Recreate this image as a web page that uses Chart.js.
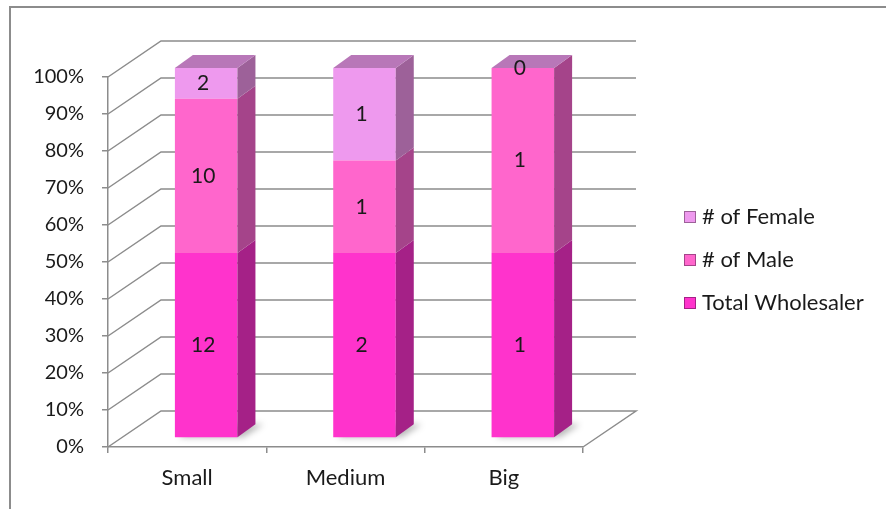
<!DOCTYPE html>
<html lang="en">
<head>
<meta charset="UTF-8">
<title>Wholesalers by size</title>
<script src="https://cdn.jsdelivr.net/npm/chart.js@4.4.1/dist/chart.umd.min.js"></script>
<style>
  html, body { margin: 0; padding: 0; background: #fff; }
  #wrap { width: 886px; height: 509px; }
</style>
</head>
<body>
<div id="wrap"><canvas id="myChart" width="886" height="509"></canvas></div>
<script>
const categories = ['Small', 'Medium', 'Big'];
const totalWholesaler = [12, 2, 1];
const maleCount = [10, 1, 1];
const femaleCount = [2, 1, 0];

const FONT = 'Lato, "Liberation Sans", sans-serif';
const GRID = '#8c8c8c';
// wall depth offset and bar shift into the box
const WALL = { dx: 53, dy: -36 };
const BAR_SHIFT = { dx: 19, dy: -9 };
const BAR_DEPTH = { dx: 18, dy: -13 };

function share(arr) {
  return arr.map((v, i) => {
    const sum = totalWholesaler[i] + maleCount[i] + femaleCount[i];
    return v / sum * 100;
  });
}

const series = [
  { label: 'Total Wholesaler', counts: totalWholesaler, front: '#ff33cc', side: '#a52187' },
  { label: '# of Male', counts: maleCount, front: '#ff66cc', side: '#a5448a' },
  { label: '# of Female', counts: femaleCount, front: '#ee99ee', side: '#9d6199', top: '#b877b8' }
];

const box3d = {
  id: 'box3d',
  beforeDraw(chart) {
    const ctx = chart.ctx;
    ctx.save();
    ctx.strokeStyle = '#8c8c8c';
    ctx.lineWidth = 2;
    ctx.beginPath();
    ctx.moveTo(10, 509);
    ctx.lineTo(10, 7);
    ctx.lineTo(886, 7);
    ctx.stroke();
    ctx.restore();
  },
  beforeDatasetsDraw(chart) {
    const ctx = chart.ctx;
    const area = chart.chartArea;
    const y = chart.scales.y;
    ctx.save();
    ctx.strokeStyle = GRID;
    ctx.lineWidth = 1.5;
    y.ticks.forEach(t => {
      const py = y.getPixelForValue(t.value);
      ctx.beginPath();
      ctx.moveTo(area.left, py);
      ctx.lineTo(area.left + WALL.dx, py + WALL.dy);
      ctx.lineTo(area.right + WALL.dx, py + WALL.dy);
      if (t.value === 0) ctx.lineTo(area.right, py);
      ctx.stroke();
    });
    ctx.restore();

    // bars sit a little inside the box
    ctx.save();
    ctx.translate(BAR_SHIFT.dx, BAR_SHIFT.dy);
    // soft floor shadow behind each column
    const base = chart.getDatasetMeta(0).data;
    ctx.save();
    ctx.filter = 'blur(3px)';
    ctx.fillStyle = 'rgba(0,0,0,0.28)';
    base.forEach(el => {
      const r = el.x + el.width / 2;
      const l = el.x - el.width / 2;
      ctx.beginPath();
      ctx.moveTo(l + 4, el.base);
      ctx.lineTo(r + 6, el.base);
      ctx.lineTo(r + BAR_DEPTH.dx + 8, el.base + BAR_DEPTH.dy);
      ctx.lineTo(l + BAR_DEPTH.dx, el.base + BAR_DEPTH.dy);
      ctx.closePath();
      ctx.fill();
    });
    ctx.restore();
  },
  afterDatasetsDraw(chart) {
    const ctx = chart.ctx;
    const last = chart.data.datasets.length - 1;
    chart.data.datasets.forEach((ds, di) => {
      const meta = chart.getDatasetMeta(di);
      meta.data.forEach((el, i) => {
        const l = el.x - el.width / 2;
        const r = el.x + el.width / 2;
        const top = Math.min(el.y, el.base);
        const bot = Math.max(el.y, el.base);
        // right face
        ctx.fillStyle = series[di].side;
        ctx.beginPath();
        ctx.moveTo(r, top);
        ctx.lineTo(r + BAR_DEPTH.dx, top + BAR_DEPTH.dy);
        ctx.lineTo(r + BAR_DEPTH.dx, bot + BAR_DEPTH.dy);
        ctx.lineTo(r, bot);
        ctx.closePath();
        ctx.fill();
        // lid on the top segment
        if (di === last) {
          ctx.fillStyle = series[di].top;
          ctx.beginPath();
          ctx.moveTo(l, top);
          ctx.lineTo(l + BAR_DEPTH.dx, top + BAR_DEPTH.dy);
          ctx.lineTo(r + BAR_DEPTH.dx, top + BAR_DEPTH.dy);
          ctx.lineTo(r, top);
          ctx.closePath();
          ctx.fill();
        }
      });
    });
    // count labels in the middle of each segment
    ctx.fillStyle = '#1a1a1a';
    ctx.font = '21px ' + FONT;
    ctx.textAlign = 'center';
    ctx.textBaseline = 'middle';
    chart.data.datasets.forEach((ds, di) => {
      const meta = chart.getDatasetMeta(di);
      meta.data.forEach((el, i) => {
        const my = (el.y + el.base) / 2;
        ctx.fillText(String(ds.counts[i]), el.x - 3, my);
      });
    });
    ctx.restore();
  },
  afterDraw(chart) {
    const ctx = chart.ctx;
    ctx.save();
    ctx.font = '22px ' + FONT;
    ctx.textBaseline = 'middle';
    ctx.textAlign = 'left';
    const items = chart.data.datasets.slice().reverse();
    items.forEach((ds, k) => {
      const cy = 216 + k * 43;
      ctx.fillStyle = ds.backgroundColor;
      ctx.fillRect(684, cy - 5, 12, 12);
      ctx.strokeStyle = ds.sideColor;
      ctx.lineWidth = 1;
      ctx.strokeRect(684.5, cy - 4.5, 11, 11);
      ctx.fillStyle = '#1a1a1a';
      ctx.fillText(ds.label, 702, cy + 1);
    });
    ctx.restore();
  }
};

const ctx = document.getElementById('myChart').getContext('2d');
new Chart(ctx, {
  type: 'bar',
  data: {
    labels: categories,
    datasets: series.map(s => ({
      label: s.label,
      data: share(s.counts),
      counts: s.counts,
      backgroundColor: s.front,
      sideColor: s.side,
      borderWidth: 0,
      clip: false,
      categoryPercentage: 1,
      barPercentage: 0.395
    }))
  },
  options: {
    responsive: false,
    animation: false,
    layout: { padding: { left: 0, top: 77, right: 303, bottom: 0 } },
    plugins: {
      legend: { display: false },
      tooltip: { enabled: false }
    },
    scales: {
      x: {
        stacked: true,
        afterFit(s) { s.height = 62; },
        grid: { drawOnChartArea: false, drawTicks: true, tickLength: 6, color: GRID, lineWidth: 1.5 },
        border: { display: true, color: GRID, width: 1.5 },
        ticks: { font: { family: FONT, size: 22 }, color: '#1a1a1a', padding: 12 }
      },
      y: {
        stacked: true,
        min: 0,
        max: 100,
        afterFit(s) { s.width = 108; },
        grid: { drawOnChartArea: false, drawTicks: true, tickLength: 6, color: GRID, lineWidth: 1.5 },
        border: { display: true, color: GRID, width: 1.5 },
        ticks: {
          stepSize: 10,
          padding: 18,
          font: { family: FONT, size: 20 },
          color: '#1a1a1a',
          callback: v => v + '%'
        }
      }
    }
  },
  plugins: [box3d]
});
</script>
</body>
</html>
